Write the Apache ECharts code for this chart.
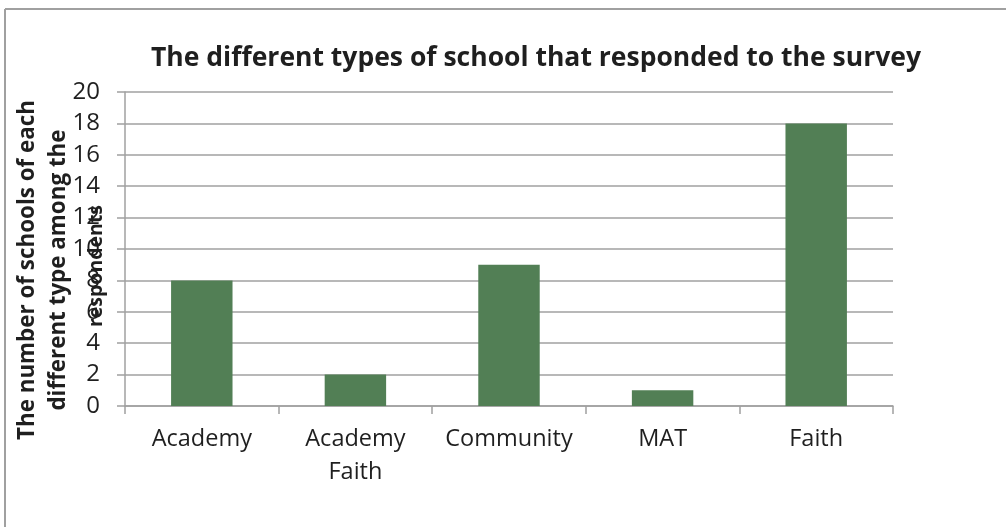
<!DOCTYPE html>
<html><head><meta charset="utf-8">
<script src="https://cdn.jsdelivr.net/npm/echarts@6/dist/echarts.min.js"></script>
<style>html,body{margin:0;padding:0;background:#fff}#c{width:1006px;height:527px}</style>
</head><body><div id="c"></div>
<script>
const categories = ['Academy', 'Academy\nFaith', 'Community', 'MAT', 'Faith'];
const values = [8, 2, 9, 1, 18];
const yTicks = [0, 2, 4, 6, 8, 10, 12, 14, 16, 18, 20];
const titleText = 'The different types of school that responded to the survey';
const yNameLines = ['The number of schools of each', 'different type among the', 'respondents'];

const FONT = 'Open Sans';
const TXT = '#1f1f1f';
const chart = echarts.init(document.getElementById('c'));
chart.setOption({
  animation: false,
  backgroundColor: '#fff',
  title: {
    text: titleText, left: 531, top: 40, textAlign: 'center',
    textStyle: { fontFamily: FONT, fontWeight: 'bold', fontSize: 26.5, color: TXT }
  },
  graphic: [
    { type: 'line', shape: { x1: 5, y1: 9, x2: 1006, y2: 9 }, style: { stroke: '#a0a0a0', lineWidth: 2 } },
    { type: 'line', shape: { x1: 5, y1: 9, x2: 5, y2: 527 }, style: { stroke: '#a0a0a0', lineWidth: 2 } },
    { type: 'text', x: 28, y: 270, rotation: Math.PI / 2, z: 10,
      style: { text: yNameLines[0], fontFamily: FONT, fontWeight: 'bold', fontSize: 22.4, fill: TXT, align: 'center', verticalAlign: 'middle' } },
    { type: 'text', x: 59, y: 270, rotation: Math.PI / 2, z: 10,
      style: { text: yNameLines[1], fontFamily: FONT, fontWeight: 'bold', fontSize: 22.4, fill: TXT, align: 'center', verticalAlign: 'middle' } },
    { type: 'text', x: 96, y: 266, rotation: Math.PI / 2, z: 10,
      style: { text: yNameLines[2], fontFamily: FONT, fontWeight: 'bold', fontSize: 19.5, fill: TXT, align: 'center', verticalAlign: 'middle' } }
  ],
  grid: { left: 125, right: 113, top: 92, bottom: 121 },
  xAxis: {
    type: 'category', data: categories,
    axisLine: { lineStyle: { color: '#a0a0a0', width: 1.5 } },
    axisTick: { show: true, length: 8, lineStyle: { color: '#a0a0a0', width: 1.5 } },
    axisLabel: { interval: 0, fontFamily: FONT, fontSize: 23.5, color: TXT, margin: 17, lineHeight: 33 }
  },
  yAxis: {
    type: 'value', min: 0, max: 20, interval: 2,
    axisLine: { show: true, lineStyle: { color: '#a0a0a0', width: 1.5 } },
    axisTick: { show: true, length: 8, lineStyle: { color: '#a0a0a0', width: 1.5 } },
    splitLine: { lineStyle: { color: '#a0a0a0', width: 1.5 } },
    axisLabel: { fontFamily: FONT, fontSize: 24, color: TXT, margin: 25,
      formatter: v => yTicks.includes(v) ? String(v) : '' }
  },
  series: [{
    type: 'bar', data: values, barCategoryGap: '60%',
    itemStyle: { color: '#527f55' }
  }]
});
</script></body></html>
